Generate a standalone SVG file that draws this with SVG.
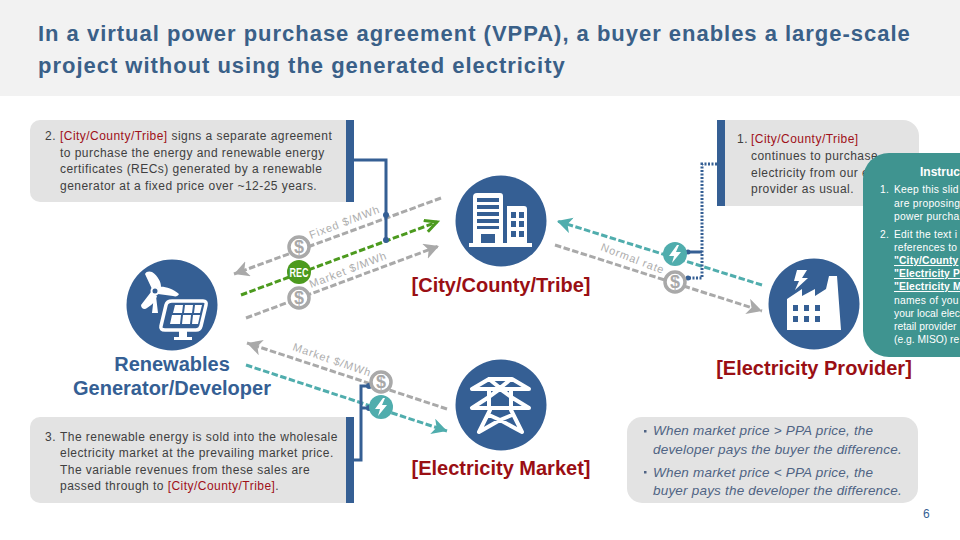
<svg xmlns="http://www.w3.org/2000/svg" width="960" height="540" viewBox="0 0 960 540">
<defs>
<style>
text{font-family:"Liberation Sans",Arial,sans-serif}
.title{font-size:22px;font-weight:bold;fill:#3a6088;letter-spacing:.98px}
.body{font-size:12px;fill:#404040;letter-spacing:.46px}
.red{fill:#a01018}
.box{fill:#e3e3e3}
.bar{fill:#355f94}
.disc{fill:#355f94}
.w{fill:#fff}
.ws{fill:none;stroke:#fff;stroke-linejoin:round;stroke-linecap:round}
.big{font-size:20px;font-weight:bold;text-anchor:middle}
.blue{fill:#355f94}
.dark{fill:#9a0f14}
.flow{fill:none;stroke-width:3;stroke-dasharray:6.5 2.5}
.gray{stroke:#a9a9a9}
.green{stroke:#4c9a1e}
.teal{stroke:#50adad}
.tie{fill:none;stroke:#355f94;stroke-width:3}
.dot{fill:#355f94}
.lab{font-size:11px;fill:#adadad;letter-spacing:.9px}
.coin{fill:#fff;stroke:#a9a9a9;stroke-width:3.5}
.coint{font-size:18px;font-weight:bold;fill:#a9a9a9;text-anchor:middle}
.note{font-size:13.5px;font-style:italic;fill:#4f6384;letter-spacing:.2px}
.ins{font-size:10.3px;fill:#fff;letter-spacing:.25px}
.tight{letter-spacing:0}
.insb{font-size:10.3px;font-weight:bold;fill:#fff;text-decoration:underline;letter-spacing:.15px}
</style>
<marker id="ag" markerUnits="userSpaceOnUse" markerWidth="18" markerHeight="18" refX="15" refY="8" orient="auto"><path d="M0 0L15 8L0 16L4 8Z" fill="#a9a9a9"/></marker>
<marker id="agr" markerUnits="userSpaceOnUse" markerWidth="18" markerHeight="18" refX="14" refY="7" orient="auto"><path d="M2 1L14 7L2 13" fill="none" stroke="#4c9a1e" stroke-width="3"/></marker>
<marker id="at" markerUnits="userSpaceOnUse" markerWidth="18" markerHeight="18" refX="15" refY="8" orient="auto"><path d="M0 0L15 8L0 16L4 8Z" fill="#50adad"/></marker>
<symbol id="bolt" overflow="visible"><path d="M2-9L-6 2H-1L-3 9L6-2H1L4-9Z" fill="#fff"/></symbol>
</defs>
<rect width="960" height="540" fill="#fff"/>
<rect width="960" height="96" fill="#f2f2f2"/>
<g id="title"><text class="title" x="38" y="41">In a virtual power purchase agreement (VPPA), a buyer enables a large-scale</text><text class="title" x="38" y="73">project without using the generated electricity</text></g>

<g id="connectors">
<path class="flow gray" d="M441 198L234 274" marker-end="url(#ag)"/>
<path class="flow green" d="M241 295L437 222" marker-end="url(#agr)"/>
<path class="flow gray" d="M246 318L439 246" marker-end="url(#ag)"/>
<path class="flow gray" d="M447 409L247 343" marker-end="url(#ag)"/>
<path class="flow teal" d="M246 365L447 431" marker-end="url(#at)"/>
<path class="flow teal" d="M762 285L557 221" marker-end="url(#at)"/>
<path class="flow gray" d="M555 245L762 311" marker-end="url(#ag)"/>
<path class="tie" d="M354 160H386V240"/>
<circle class="dot" cx="386" cy="215" r="3"/><circle class="dot" cx="386" cy="240" r="3"/>
<path class="tie" d="M354 460H361V386H370"/><path class="tie" d="M361 408H369"/>
<circle class="dot" cx="369" cy="386" r="3"/><circle class="dot" cx="369" cy="408" r="3"/>
<path class="tie" d="M717 164H702V278H688" stroke-dasharray="2 1.5"/>
<path class="tie" d="M702 252H688"/>
<circle class="dot" cx="688" cy="252" r="2.5"/><circle class="dot" cx="688" cy="278" r="2.5"/>
</g>

<g id="flow-labels">
<text class="lab" transform="translate(311 239) rotate(-21)">Fixed $/MWh</text>
<text class="lab" transform="translate(311 288) rotate(-21)">Market $/MWh</text>
<text class="lab" transform="translate(292 350) rotate(19)">Market $/MWh</text>
<text class="lab" transform="translate(600 250) rotate(21)">Normal rate</text>
</g>

<g id="badges">
<circle class="coin" cx="299" cy="247" r="10"/><text class="coint" x="299" y="253">$</text>
<circle class="coin" cx="299" cy="298" r="10"/><text class="coint" x="299" y="304">$</text>
<circle class="coin" cx="381" cy="382" r="10"/><text class="coint" x="381" y="388">$</text>
<circle class="coin" cx="675" cy="282" r="10"/><text class="coint" x="675" y="288">$</text>
<circle cx="299" cy="272" r="12" fill="#4c9a1e"/><text x="299" y="277" font-size="13" font-weight="bold" fill="#fff" text-anchor="middle" textLength="19" lengthAdjust="spacingAndGlyphs">REC</text>
<circle cx="381" cy="407" r="12" fill="#50adad"/><use href="#bolt" x="381" y="407"/>
<circle cx="675" cy="254" r="12" fill="#50adad"/><use href="#bolt" x="675" y="254"/>
</g>

<g id="box-2">
<path class="box" d="M40 120H346V202H40A10 10 0 0 1 30 192V130A10 10 0 0 1 40 120Z"/><rect class="bar" x="346" y="120" width="8" height="82"/>
<text class="body" x="45" y="140">2. <tspan class="red" x="60">[City/County/Tribe]</tspan> signs a separate agreement</text>
<text class="body" x="60" y="157">to purchase the energy and renewable energy</text>
<text class="body" x="60" y="173">certificates (RECs) generated by a renewable</text>
<text class="body" x="60" y="190">generator at a fixed price over ~12-25 years.</text>
</g>

<g id="box-1">
<path class="box" d="M725 120H903A16 16 0 0 1 919 136V206H725Z"/><rect class="bar" x="717" y="120" width="8" height="86"/>
<text class="body" x="737" y="143">1. <tspan class="red" x="751">[City/County/Tribe]</tspan></text>
<text class="body" x="751" y="160">continues to purchase</text>
<text class="body" x="751" y="177">electricity from our e</text>
<text class="body" x="751" y="193">provider as usual.</text>
</g>

<g id="box-3">
<path class="box" d="M40 417H346V503H40A10 10 0 0 1 30 493V427A10 10 0 0 1 40 417Z"/><rect class="bar" x="346" y="417" width="8" height="86"/>
<text class="body" x="45" y="441">3. <tspan x="60">The renewable energy is sold into the wholesale</tspan></text>
<text class="body" x="60" y="457">electricity market at the prevailing market price.</text>
<text class="body" x="60" y="474">The variable revenues from these sales are</text>
<text class="body" x="60" y="490">passed through to <tspan class="red">[City/County/Tribe]</tspan>.</text>
</g>

<g id="box-4">
<rect class="box" x="627" y="417" width="291" height="86" rx="15"/>
<rect x="644" y="430" width="2.5" height="2.5" fill="#4f6384"/><rect x="644" y="471" width="2.5" height="2.5" fill="#4f6384"/>
<text class="note" x="653" y="435">When market price &gt; PPA price, the</text>
<text class="note" x="653" y="454">developer pays the buyer the difference.</text>
<text class="note" x="653" y="477">When market price &lt; PPA price, the</text>
<text class="note" x="653" y="495">buyer pays the developer the difference.</text>
</g>

<g id="node-renewables">
<circle class="disc" cx="172" cy="305" r="45.5"/>
<path class="w" d="M152 289L145 274C146 271 150 271 152 272C158 276 161 282 161 287ZM158 287C164 286 172 288 179 294C178 296 176 297 173 296L158 294ZM151 292L141 305C141 309 145 310 147 308C152 305 156 301 157 296ZM154 296L152 313H158L156 296Z"/>
<circle cx="155" cy="291" r="3.5" fill="#355f94" stroke="#fff" stroke-width="2"/>
<path class="ws" stroke-width="3.5" d="M172 301H203Q207 301 206 305L201 326Q200 330 196 330H165Q160 330 161 326L166 305Q167 301 172 301Z"/>
<path class="w" d="M175 305H183L182 313H173ZM185 305H193L192 313H184ZM195 305H202L200 313H194ZM172 315H181L180 324H170ZM183 315H191L190 324H182ZM193 315H200L198 324H192Z"/>
<path class="w" d="M179 331H187V337H192V340H174V337H179Z"/>
<text class="big blue" x="172" y="371">Renewables</text>
<text class="big blue" x="172" y="395">Generator/Developer</text>
</g>

<g id="node-city">
<circle class="disc" cx="501" cy="221" r="45.5"/>
<path class="w" d="M477 193H500A3 3 0 0 1 503 196V245H473V197A4 4 0 0 1 477 193Z"/>
<path class="w" d="M507 206H524A3 3 0 0 1 527 209V245H507Z"/>
<rect class="w" x="469" y="243" width="63" height="4"/>
<path fill="#355f94" d="M477 198H499V202H477ZM477 205H499V209H477ZM477 212H499V216H477ZM477 219H499V223H477ZM477 226H499V229H477ZM481 234H495V243H481Z"/>
<path fill="#355f94" d="M511 212H516V218H511ZM519 212H524V218H519ZM511 221H516V227H511ZM519 221H524V227H519ZM511 231H516V237H511ZM519 231H524V237H519Z"/>
<text class="big dark" x="501" y="292">[City/County/Tribe]</text>
</g>

<g id="node-market">
<circle class="disc" cx="501" cy="405" r="45.5"/>
<path class="ws" stroke-width="4" d="M472 389H529L512 379H489L472 389M472 408H529L511 397M472 408L489 397M489 379L511 397M511 379L489 397M489 389V408M511 389V408M489 397L500 389L511 397M490 410L479 432L500 420L522 432L511 410M489 415L500 420L512 415"/>
<text class="big dark" x="501" y="475">[Electricity Market]</text>
</g>

<g id="node-provider">
<circle class="disc" cx="814" cy="304" r="45.5"/>
<path class="w" d="M797 270H807L802 278H808L795 290L799 281H794Z"/>
<path class="w" d="M787 330V299L802 289V296L815 289V296L826 289L829 276H837L841 330Z"/>
<path fill="#355f94" d="M793 305H798V311H793ZM804 305H809V311H804ZM815 305H820V311H815ZM793 316H798V322H793ZM804 316H809V322H804ZM815 316H820V322H815Z"/>
<text class="big dark" x="814" y="375">[Electricity Provider]</text>
</g>

<g id="instructions">
<rect x="863" y="153" width="130" height="204" rx="26" fill="#3f9490"/>
<text class="ins" x="920" y="176" font-weight="bold" style="font-size:12px;letter-spacing:0">Instruc</text>
<text class="ins" x="880" y="193">1. <tspan x="894">Keep this slid</tspan></text>
<text class="ins" x="894" y="207">are proposing</text>
<text class="ins" x="894" y="220">power purcha</text>
<text class="ins" x="880" y="238">2. <tspan x="894">Edit the text i</tspan></text>
<text class="ins" x="894" y="251">references to</text>
<text class="insb" x="894" y="264">"City/County</text>
<text class="insb" x="894" y="277">"Electricity P</text>
<text class="insb" x="894" y="290">"Electricity M</text>
<text class="ins" x="894" y="304">names of you</text>
<text class="ins tight" x="894" y="317">your local elec</text>
<text class="ins tight" x="894" y="330">retail provider</text>
<text class="ins tight" x="894" y="343">(e.g. MISO) re</text>
</g>
<text id="page" x="923" y="518" font-size="12" fill="#355f94">6</text>
</svg>
